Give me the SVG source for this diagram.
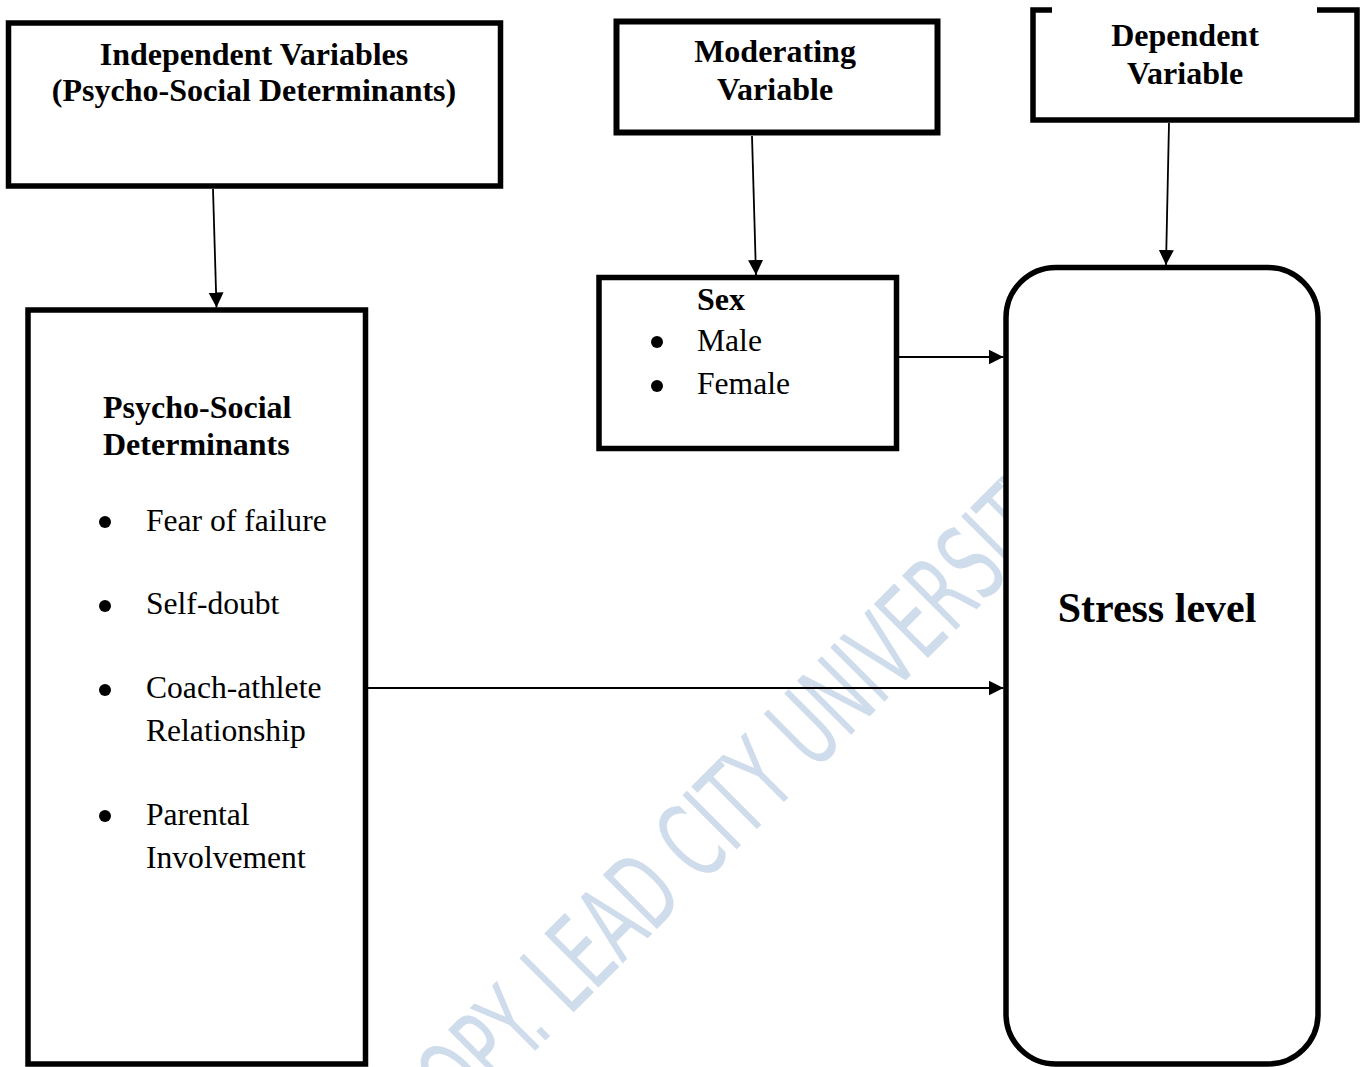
<svg xmlns="http://www.w3.org/2000/svg" width="1362" height="1067" viewBox="0 0 1362 1067">
  <style>
    .box { fill: #ffffff; stroke: #000000; stroke-width: 5.5; }
    .hd { font-family: "Liberation Serif", "Times New Roman", serif; font-weight: bold; font-size: 32px; fill: #000; }
    .tx { font-family: "Liberation Serif", "Times New Roman", serif; font-size: 31.6px; fill: #000; }
    .big { font-family: "Liberation Serif", "Times New Roman", serif; font-weight: bold; font-size: 42px; fill: #000; }
    .conn { stroke: #000; stroke-width: 1.8; fill: none; marker-end: url(#arrow); }
    .wm { font-family: "Liberation Sans Narrow", "DejaVu Sans Condensed", "Liberation Sans", sans-serif; font-size: 105px; fill: #cfdcec; }
  </style>
  <defs>
    <marker id="arrow" markerUnits="userSpaceOnUse" markerWidth="16" markerHeight="16" refX="15" refY="7.5" orient="auto">
      <path d="M0,0 L15,7.5 L0,15 Z" fill="#000"/>
    </marker>
  </defs>
  <rect width="1362" height="1067" fill="#ffffff"/>

  <g id="watermark" transform="translate(578,1008) rotate(-45)">
    <text class="wm" x="-207" y="0" textLength="915" lengthAdjust="spacingAndGlyphs">COPY. LEAD CITY UNIVERSITY</text>
  </g>

  <g id="independent-variables">
    <rect class="box" x="8.5" y="23" width="492" height="163"/>
    <text class="hd" x="254" y="65" text-anchor="middle">Independent Variables</text>
    <text class="hd" x="254" y="101" text-anchor="middle">(Psycho-Social Determinants)</text>
  </g>

  <g id="moderating-variable">
    <rect class="box" x="616.5" y="21.5" width="321" height="111" style="stroke-width:6"/>
    <text class="hd" x="775" y="62" text-anchor="middle">Moderating</text>
    <text class="hd" x="775" y="100" text-anchor="middle">Variable</text>
  </g>

  <g id="dependent-variable">
    <path d="M1052,10 L1033,10 L1033,120 L1357,120 L1357,10 L1317,10" fill="#ffffff" stroke="#000" stroke-width="5.5"/>
    <text class="hd" x="1185" y="46" text-anchor="middle">Dependent</text>
    <text class="hd" x="1185" y="84" text-anchor="middle">Variable</text>
  </g>

  <g id="sex">
    <rect class="box" x="599" y="277.5" width="297.5" height="171"/>
    <text class="hd" x="697" y="310">Sex</text>
    <circle cx="657" cy="342" r="6" fill="#000"/>
    <text class="tx" x="697" y="351">Male</text>
    <circle cx="657" cy="386" r="6" fill="#000"/>
    <text class="tx" x="697" y="394">Female</text>
  </g>

  <g id="psycho-social-determinants">
    <rect class="box" x="28" y="310" width="337.5" height="754"/>
    <text class="hd" x="103" y="418">Psycho-Social</text>
    <text class="hd" x="103" y="455">Determinants</text>
    <circle cx="105" cy="522" r="6" fill="#000"/>
    <text class="tx" x="146" y="531">Fear of failure</text>
    <circle cx="105" cy="606" r="6" fill="#000"/>
    <text class="tx" x="146" y="614">Self-doubt</text>
    <circle cx="105" cy="690" r="6" fill="#000"/>
    <text class="tx" x="146" y="698">Coach-athlete</text>
    <text class="tx" x="146" y="741">Relationship</text>
    <circle cx="105" cy="816" r="6" fill="#000"/>
    <text class="tx" x="146" y="825">Parental</text>
    <text class="tx" x="146" y="868">Involvement</text>
  </g>

  <g id="stress-level">
    <rect class="box" x="1006" y="267.5" width="312" height="796.5" rx="50" ry="50"/>
    <text class="big" x="1157" y="622" text-anchor="middle">Stress level</text>
  </g>

  <g id="connectors">
    <line class="conn" x1="213" y1="189" x2="216.5" y2="307.5"/>
    <line class="conn" x1="752" y1="136" x2="756" y2="275"/>
    <line class="conn" x1="1169" y1="123" x2="1166" y2="265"/>
    <line class="conn" x1="899" y1="357" x2="1003.5" y2="357"/>
    <line class="conn" x1="368" y1="688" x2="1003.5" y2="688"/>
  </g>
</svg>
